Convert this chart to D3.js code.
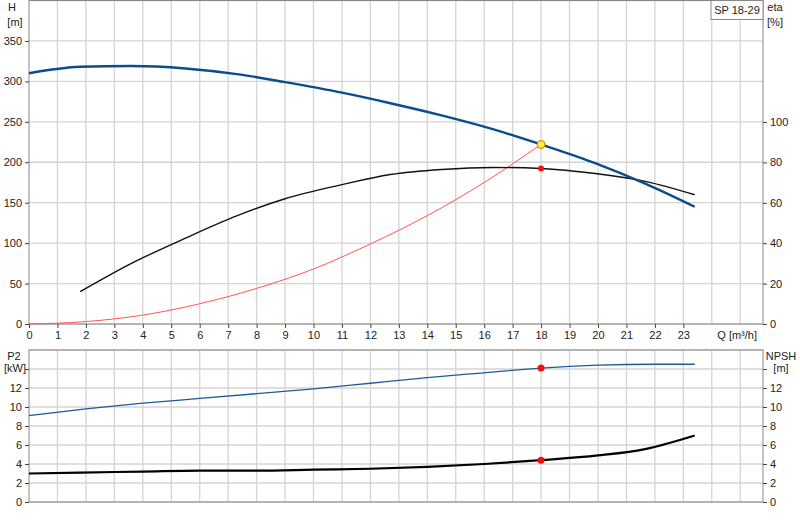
<!DOCTYPE html><html><head><meta charset="utf-8"><script src="https://cdn.jsdelivr.net/npm/d3@7"></script>
<style>body{margin:0;background:#fff}text{font-family:Arial,"Liberation Sans",sans-serif;font-size:11px;fill:#222}</style></head><body>
<svg id="c" width="800" height="520"></svg>
<script>
const hQ=[0,1.8,3.6,5.5,7.3,9,11,12.7,14.5,16.3,18,19.9,21.7,23.4];
const hV=[310,318,319,316,309,299,286,273,258,241,222,199,173,145];
const etaQ=[1.8,3.6,5.5,7.3,9,11,12.7,14.5,16.3,18,19.9,21.7,23.4];
const etaV=[16,30,42.5,53.5,62,69,74,76.5,77.5,77,74.5,70.5,64];
const sysQ=[0,2,4,6,8,10,12,14,16,18];
const sysV=[0,3,11,25,44,68,99,134,175,222];
const p2Q=[0,2,4,6,8,10,12,14,16,18,20,22,23.4];
const p2V=[9.1,9.8,10.4,10.9,11.4,11.9,12.5,13.1,13.6,14.1,14.4,14.5,14.5];
const npQ=[0,1.8,4,6,8,10,12,14,16,18,20,21.7,23.4];
const npV=[3.0,3.1,3.2,3.3,3.3,3.4,3.5,3.7,4.0,4.4,4.9,5.6,7.0];
const qTicks=d3.range(0,24);
const hTicks=[0,50,100,150,200,250,300,350];
const etaTicks=[0,20,40,60,80,100];
const lowTicks=[0,2,4,6,8,10,12,14];
const dutyQ=18, dutyH=222, dutyEta=77, dutyP2=14.1, dutyNp=4.4;

const svg=d3.select("#c");
const x=d3.scaleLinear().domain([0,25.8]).range([29,763]);
const yH=d3.scaleLinear().domain([0,400]).range([324,0.5]);
const yE=d3.scaleLinear().domain([0,100]).range([324,122]);
const yL=d3.scaleLinear().domain([0,16]).range([502,350]);
const grid="#d4d4d4";
const g1=svg.append("g");
d3.range(1,26).forEach(q=>g1.append("line").attr("x1",x(q)).attr("x2",x(q)).attr("y1",0).attr("y2",324).attr("stroke",grid).attr("stroke-width",1.3));
hTicks.concat([400]).forEach(h=>g1.append("line").attr("x1",29).attr("x2",763).attr("y1",yH(h)).attr("y2",yH(h)).attr("stroke",grid).attr("stroke-width",1.3));
const g2=svg.append("g");
d3.range(1,26).forEach(q=>g2.append("line").attr("x1",x(q)).attr("x2",x(q)).attr("y1",350).attr("y2",502).attr("stroke",grid).attr("stroke-width",1.3));
lowTicks.concat([16]).forEach(v=>g2.append("line").attr("x1",29).attr("x2",763).attr("y1",yL(v)).attr("y2",yL(v)).attr("stroke",grid).attr("stroke-width",1.3));
svg.append("rect").attr("x",29).attr("y",0.5).attr("width",734).attr("height",323.5).attr("fill","none").attr("stroke","#888");
svg.append("rect").attr("x",29).attr("y",350).attr("width",734).attr("height",152).attr("fill","none").attr("stroke","#888");
svg.append("g").attr("transform","translate(29,0)").call(d3.axisLeft(yH).tickValues(hTicks).tickSize(4)).call(a=>{a.select(".domain").remove();a.selectAll("line").attr("stroke","#444");a.selectAll("text").attr("font-size",11).attr("x",-7)});
svg.append("g").attr("transform","translate(763,0)").call(d3.axisRight(yE).tickValues(etaTicks).tickSize(4)).call(a=>{a.select(".domain").remove();a.selectAll("line").attr("stroke","#444");a.selectAll("text").attr("font-size",11)});
svg.append("g").attr("transform","translate(0,324)").call(d3.axisBottom(x).tickValues(qTicks).tickSize(4).tickFormat(d3.format("d"))).call(a=>{a.select(".domain").remove();a.selectAll("line").attr("stroke","#444");a.selectAll("text").attr("font-size",11).attr("y",7)});
svg.append("g").attr("transform","translate(29,0)").call(d3.axisLeft(yL).tickValues(lowTicks).tickSize(4).tickFormat(d=>d===14?"":d)).call(a=>{a.select(".domain").remove();a.selectAll("line").attr("stroke","#444");a.selectAll("text").attr("font-size",11).attr("x",-7)});
svg.append("g").attr("transform","translate(763,0)").call(d3.axisRight(yL).tickValues(lowTicks).tickSize(4).tickFormat(d=>d===14?"":d)).call(a=>{a.select(".domain").remove();a.selectAll("line").attr("stroke","#444");a.selectAll("text").attr("font-size",11)});
const t=(s,xx,yy,a)=>svg.append("text").attr("x",xx).attr("y",yy).attr("text-anchor",a||"start").text(s);
t("H",12,11,"middle");t("[m]",15,26,"middle");
t("eta",775,11,"middle");t("[%]",775,26,"middle");
t("Q [m³/h]",757,339,"end");
t("P2",14,360,"middle");t("[kW]",15,372,"middle");
t("NPSH",781,360,"middle");t("[m]",781,372,"middle");
svg.append("rect").attr("x",711).attr("y",0.5).attr("width",52).attr("height",19).attr("fill","#fff").attr("stroke","#888");
t("SP 18-29",737,14,"middle");
const line=(Q,V,ys)=>d3.line().x((d,i)=>x(Q[i])).y((d,i)=>ys(V[i])).curve(d3.curveMonotoneX)(V);
svg.append("path").attr("d",line(sysQ,sysV,yH)).attr("fill","none").attr("stroke","#ff5555").attr("stroke-width",1);
svg.append("path").attr("d",line(etaQ,etaV,yE)).attr("fill","none").attr("stroke","#111").attr("stroke-width",1.4);
svg.append("path").attr("d",line(hQ,hV,yH)).attr("fill","none").attr("stroke","#0b4d8c").attr("stroke-width",2.4);
svg.append("path").attr("d",line(p2Q,p2V,yL)).attr("fill","none").attr("stroke","#1f5a98").attr("stroke-width",1.3);
svg.append("path").attr("d",line(npQ,npV,yL)).attr("fill","none").attr("stroke","#000").attr("stroke-width",2.2);
svg.append("circle").attr("cx",x(dutyQ)).attr("cy",yH(dutyH)).attr("r",4).attr("fill","#ffee33").attr("stroke","#e07000").attr("stroke-width",1);
svg.append("circle").attr("cx",x(dutyQ)).attr("cy",yE(dutyEta)).attr("r",3).attr("fill","#ee1111");
svg.append("circle").attr("cx",x(dutyQ)).attr("cy",yL(dutyP2)).attr("r",3.5).attr("fill","#ee1111");
svg.append("circle").attr("cx",x(dutyQ)).attr("cy",yL(dutyNp)).attr("r",3.5).attr("fill","#ee1111");
</script></body></html>
